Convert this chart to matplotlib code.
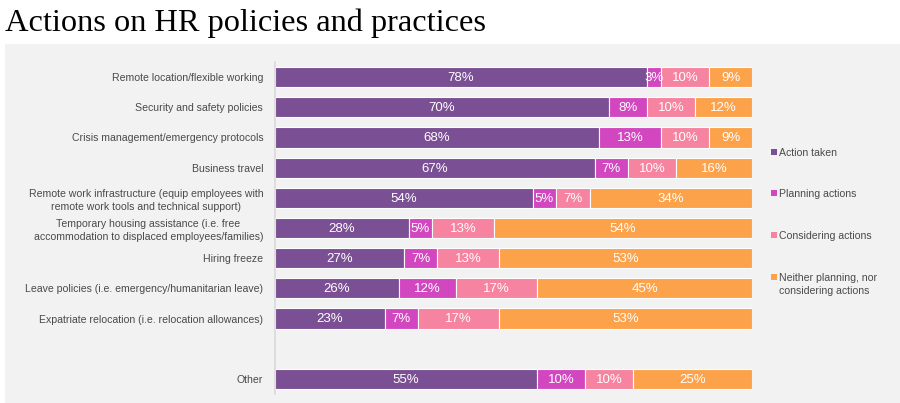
import matplotlib
matplotlib.use('Agg')
import matplotlib.pyplot as plt
from matplotlib.patches import Rectangle

categories = [
    'Remote location/flexible working',
    'Security and safety policies',
    'Crisis management/emergency protocols',
    'Business travel',
    'Remote work infrastructure (equip employees with\nremote work tools and technical support)',
    'Temporary housing assistance (i.e. free\naccommodation to displaced employees/families)',
    'Hiring freeze',
    'Leave policies (i.e. emergency/humanitarian leave)',
    'Expatriate relocation (i.e. relocation allowances)',
    '',
    'Other',
]
action_taken = [78, 70, 68, 67, 54, 28, 27, 26, 23, None, 55]
planning     = [3, 8, 13, 7, 5, 5, 7, 12, 7, None, 10]
considering  = [10, 10, 10, 10, 7, 13, 13, 17, 17, None, 10]
neither      = [9, 12, 9, 16, 34, 54, 53, 45, 53, None, 25]

series_names = ['Action taken', 'Planning actions', 'Considering actions',
                'Neither planning, nor\nconsidering actions']
colours = ['#7B4F94', '#D247C0', '#F6839F', '#FBA24B']

fig = plt.figure(figsize=(9, 4.03), dpi=100)
fig.patch.set_facecolor('white')
fig.patches.append(Rectangle((5 / 900, 0), 1, 1 - 44 / 403, transform=fig.transFigure,
                             facecolor='#F2F2F2', edgecolor='none', zorder=-5))

fig.text(5 / 900, 1 - 23 / 403, 'Actions on HR policies and practices',
         family='Liberation Serif', fontsize=23.3, va='center', ha='left', color='black')

ax = fig.add_axes([275 / 900, 1 - 394 / 403, (752 - 275) / 900, (394 - 62) / 403])
ax.set_facecolor('none')

ypos = list(range(len(categories)))
lefts = [0] * len(categories)
for vals, col in zip([action_taken, planning, considering, neither], colours):
    for i, v in enumerate(vals):
        if v is None:
            continue
        ax.barh(ypos[i], v, left=lefts[i], height=0.67, color=col,
                edgecolor='white', linewidth=0.8)
        ax.text(lefts[i] + v / 2, ypos[i] + 0.03, f'{v}%', ha='center', va='center',
                color='white', fontsize=9.5, family='Liberation Sans')
        lefts[i] += v

ax.set_xlim(0, 100)
ax.set_ylim(len(categories) - 0.5, -0.5)
ax.set_yticks(ypos)
ax.set_yticklabels(categories, family='Liberation Sans', fontsize=7.6,
                   color='#4A4A4A', multialignment='center', linespacing=1.4)
ax.tick_params(axis='y', length=0, pad=8.5)
ax.set_xticks([])
for s in ['top', 'right', 'bottom']:
    ax.spines[s].set_visible(False)
ax.spines['left'].set_color('#D9D9D9')
ax.spines['left'].set_linewidth(1.2)

# legend
leg_y = [152, 193, 235, 277]
for name, col, yy in zip(series_names, colours, leg_y):
    fig.patches.append(Rectangle((771 / 900, 1 - (yy + 3) / 403), 6 / 900, 6 / 403,
                                 transform=fig.transFigure, facecolor=col,
                                 edgecolor='none'))
    fig.text(779 / 900, 1 - (yy - 4) / 403, name, family='Liberation Sans',
             fontsize=7.6, color='#4A4A4A', va='top', ha='left', linespacing=1.4)

plt.savefig('out.png', dpi=100)
